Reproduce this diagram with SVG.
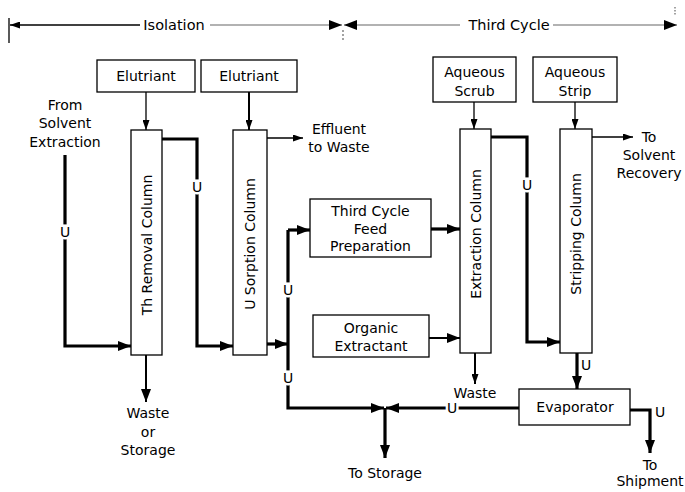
<svg xmlns="http://www.w3.org/2000/svg" width="685" height="492" viewBox="0 0 685 492">
<style>
text{font-family:"DejaVu Sans","Liberation Sans",sans-serif;font-size:14px;fill:#000;text-anchor:middle}
.box{fill:#fff;stroke:#000;stroke-width:1.3}
.thin{fill:none;stroke:#000;stroke-width:1.3}
.med{fill:none;stroke:#000;stroke-width:2}
.thick{fill:none;stroke:#000;stroke-width:3.2}
.gray{fill:none;stroke:#666;stroke-width:1.2}
.u{paint-order:stroke;stroke:#fff;stroke-width:5}
.hd{font-size:14.5px}
</style>
<defs>
<marker id="a" viewBox="0 0 10 7" refX="10" refY="3.5" markerWidth="10" markerHeight="7" markerUnits="userSpaceOnUse" orient="auto"><path d="M0,0 L10,3.5 L0,7 z"/></marker>
<marker id="b" viewBox="0 0 13 10" refX="13" refY="5" markerWidth="13" markerHeight="10" markerUnits="userSpaceOnUse" orient="auto"><path d="M0,0 L13,5 L0,10 z"/></marker>
</defs>

<g id="header">
<path class="thin" d="M9,18 V43"/>
<path class="thin" d="M140,25 H10" marker-end="url(#a)"/>
<text class="hd" x="174" y="30">Isolation</text>
<path class="gray" d="M210,25 H342" marker-end="url(#b)"/>
<path class="gray" d="M343,30 V42" stroke-dasharray="2,2"/>
<path class="gray" d="M460,25 H344" marker-end="url(#b)"/>
<text class="hd" x="509" y="30">Third Cycle</text>
<path class="gray" d="M553,25 H677" marker-end="url(#b)"/>
<path class="gray" d="M675,7 V16" stroke-dasharray="1.5,1.5"/>
</g>

<g id="connectors">
<path class="thin" d="M146,92 V130" marker-end="url(#a)"/>
<path class="med" d="M249,92 V130" marker-end="url(#a)"/>
<path class="thin" d="M267,138 H303" marker-end="url(#a)"/>
<path class="thin" d="M474,102 V129" marker-end="url(#a)"/>
<path class="thin" d="M575,102 V129" marker-end="url(#a)"/>
<path class="thin" d="M592,137 H633" marker-end="url(#a)"/>
<path class="med" d="M429,338 H460" marker-end="url(#b)"/>
<path class="med" d="M146,355 V402" marker-end="url(#b)"/>
<path class="med" d="M475,353 V384" marker-end="url(#a)"/>
<path class="thick" d="M65,155 V346 H131" marker-end="url(#b)"/>
<path class="thick" d="M162,139 H197 V346 H233" marker-end="url(#b)"/>
<path class="thick" d="M267,344 H288" marker-end="url(#b)"/>
<path class="thick" d="M288,230 H310" marker-end="url(#b)"/>
<path class="thick" d="M288,230 V408 H384" marker-end="url(#b)"/>
<path class="thick" d="M431,229 H460" marker-end="url(#b)"/>
<path class="thick" d="M491,137 H527 V342 H560" marker-end="url(#b)"/>
<path class="thick" d="M577,353 V389" marker-end="url(#b)"/>
<path class="thick" d="M519,408 H386" marker-end="url(#b)"/>
<path class="thick" d="M385,408 V458" marker-end="url(#b)"/>
<path class="thick" d="M630,410 H650 V453" marker-end="url(#b)"/>
<text class="u" x="65" y="237">U</text>
<text class="u" x="197" y="192">U</text>
<text class="u" x="288" y="295">U</text>
<text class="u" x="288" y="383">U</text>
<text class="u" x="527" y="190">U</text>
<text class="u" x="452" y="413">U</text>
<text x="586" y="370">U</text>
<text x="660" y="417">U</text>
</g>

<g id="elutriant1"><rect class="box" x="97" y="60" width="98" height="32"/><text x="146" y="81">Elutriant</text></g>
<g id="elutriant2"><rect class="box" x="201" y="60" width="96" height="32"/><text x="249" y="81">Elutriant</text></g>
<g id="th-removal"><rect class="box" x="131" y="130" width="31" height="225"/><text transform="translate(151.5,245) rotate(-90)">Th Removal Column</text></g>
<g id="u-sorption"><rect class="box" x="233" y="130" width="34" height="225"/><text transform="translate(255,244) rotate(-90)">U Sorption Column</text></g>
<g id="feed-prep"><rect class="box" x="310" y="199" width="121" height="58"/><text x="370.5" y="216">Third Cycle</text><text x="370.5" y="234">Feed</text><text x="370.5" y="251">Preparation</text></g>
<g id="organic"><rect class="box" x="313" y="315" width="116" height="42"/><text x="371" y="333">Organic</text><text x="371" y="351">Extractant</text></g>
<g id="scrub"><rect class="box" x="433" y="57" width="83" height="45"/><text x="474.5" y="77">Aqueous</text><text x="474.5" y="96">Scrub</text></g>
<g id="strip"><rect class="box" x="533" y="57" width="84" height="45"/><text x="575" y="77">Aqueous</text><text x="575" y="96">Strip</text></g>
<g id="extraction"><rect class="box" x="460" y="129" width="31" height="224"/><text transform="translate(481,234) rotate(-90)">Extraction Column</text></g>
<g id="stripping"><rect class="box" x="560" y="129" width="32" height="224"/><text transform="translate(581,234) rotate(-90)">Stripping Column</text></g>
<g id="evaporator"><rect class="box" x="519" y="389" width="111" height="36"/><text x="575" y="412">Evaporator</text></g>

<g id="labels">
<text x="65" y="110">From</text><text x="65" y="128">Solvent</text><text x="65" y="147">Extraction</text>
<text x="339" y="134">Effluent</text><text x="339" y="152">to Waste</text>
<text x="649" y="142">To</text><text x="649" y="160">Solvent</text><text x="649" y="178">Recovery</text>
<text x="148" y="418">Waste</text><text x="148" y="437">or</text><text x="148" y="455">Storage</text>
<text x="475" y="398">Waste</text>
<text x="385" y="478">To Storage</text>
<text x="650" y="470">To</text><text x="650" y="486">Shipment</text>
</g>
</svg>
